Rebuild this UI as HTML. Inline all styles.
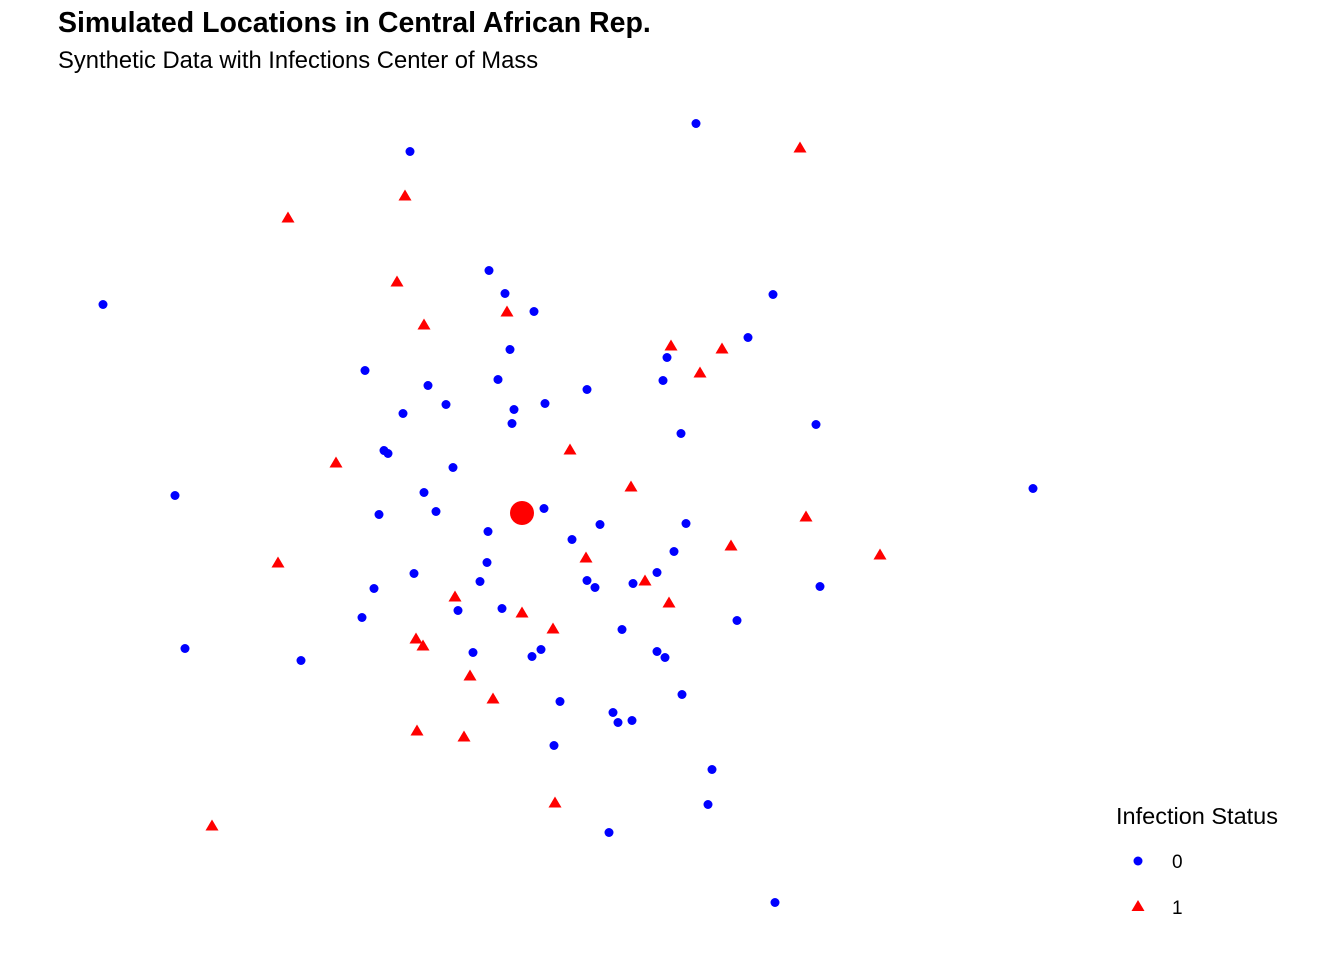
<!DOCTYPE html>
<html><head><meta charset="utf-8"><style>
html,body{margin:0;padding:0;background:#fff;}
svg{display:block;font-family:"Liberation Sans",Arial,sans-serif;}
</style></head><body>
<svg width="1344" height="960" viewBox="0 0 1344 960" xmlns="http://www.w3.org/2000/svg">
<rect width="1344" height="960" fill="#fff"/>
<text x="58" y="32" font-size="28.5" font-weight="bold" fill="#000">Simulated Locations in Central African Rep.</text>
<text x="58" y="68" font-size="23.8" fill="#000">Synthetic Data with Infections Center of Mass</text>
<g fill="#0000ff" id="blue"></g>
<g fill="#ff0000" id="red"></g>
<circle cx="522" cy="513" r="12" fill="#ff0000"/>
<text x="1116" y="824" font-size="23.5" fill="#000">Infection Status</text>
<circle cx="1138" cy="861" r="4.5" fill="#0000ff"/>
<text x="1172" y="868" font-size="19" fill="#000">0</text>
<polygon points="1138,900 1144.5,911 1131.5,911" fill="#ff0000"/>
<text x="1172" y="914" font-size="19" fill="#000">1</text>
</svg>
<script>
var b=[[696,123],[410,151],[103,304],[489,270],[505,293],[534,311],[773,294],[748,337],[510,349],[667,357],[365,370],[498,379],[663,380],[428,385],[587,389],[446,404],[545,403],[403,413],[514,409],[512,423],[816,424],[681,433],[384,450],[388,453],[453,467],[1033,488],[175,495],[424,492],[544,508],[436,511],[379,514],[600,524],[686,523],[488,531],[572,539],[674,551],[487,562],[414,573],[657,572],[480,581],[587,580],[595,587],[633,583],[820,586],[374,588],[458,610],[502,608],[362,617],[737,620],[622,629],[185,648],[301,660],[473,652],[541,649],[532,656],[657,651],[665,657],[682,694],[560,701],[613,712],[618,722],[632,720],[554,745],[712,769],[708,804],[609,832],[775,902]];
var r=[[800,147],[405,195],[288,217],[397,281],[507,311],[424,324],[671,345],[722,348],[700,372],[336,462],[570,449],[631,486],[806,516],[731,545],[880,554],[278,562],[586,557],[645,580],[455,596],[669,602],[522,612],[553,628],[416,638],[423,645],[470,675],[493,698],[417,730],[464,736],[555,802],[212,825]];
var ns="http://www.w3.org/2000/svg";
var gb=document.getElementById("blue"),gr=document.getElementById("red");
b.forEach(function(p){var c=document.createElementNS(ns,"circle");c.setAttribute("cx",p[0]);c.setAttribute("cy",p[1]+0.5);c.setAttribute("r",4.5);gb.appendChild(c);});
r.forEach(function(p){var t=document.createElementNS(ns,"polygon");var x=p[0],y=p[1]+0.5;t.setAttribute("points",x+","+(y-6)+" "+(x+6.5)+","+(y+5)+" "+(x-6.5)+","+(y+5));gr.appendChild(t);});
</script>
</body></html>
